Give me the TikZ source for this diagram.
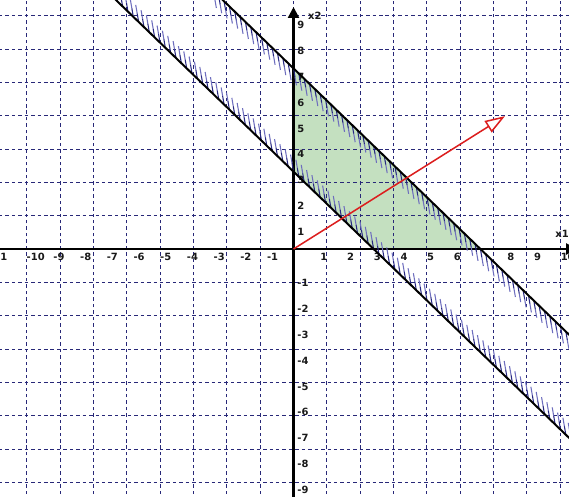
\documentclass[tikz,border=0pt]{standalone}
\usepackage{fontspec}
\newfontfamily\ticksfont{DejaVu Sans}
\usetikzlibrary{arrows.meta}
\definecolor{gridblue}{RGB}{40,40,120}
\definecolor{feasgreen}{RGB}{196,224,192}
\definecolor{hatchblue}{RGB}{40,40,130}
\definecolor{hatchpale}{RGB}{110,110,190}
\definecolor{vecred}{RGB}{220,30,30}
\tikzset{
  gridline/.style={gridblue,line width=0.7pt,dash pattern=on 3pt off 2.5pt},
  axisline/.style={line width=2pt,-{Triangle[length=3.3mm,width=3.3mm]}},
  bound/.style={line width=1.7pt},
  hatch/.style={hatchblue,line width=0.9pt},
  hatchfade/.style={hatchpale,line width=0.9pt},
  ticklabel/.style={font=\ticksfont\bfseries\fontsize{8.5}{10}\selectfont,inner sep=0pt,text=black!90},
}

\begin{document}
\begin{tikzpicture}[x=0.801cm,y=0.774cm]
\useasboundingbox (-10.993,-9.574) rectangle (10.318,9.651);
\clip (-10.993,-9.574) rectangle (10.318,9.651);
\fill[feasgreen] (0,3) -- (0,7) -- (7,0) -- (3,0) -- cycle;
\draw[gridline] (-12,-10) grid (11,10);
\coordinate (O) at (0,0);
\coordinate (xs) at (-11.2,0);
\coordinate (xe) at (10.62,0);
\coordinate (ys) at (0,-9.8);
\coordinate (ye) at (0,9.38);
\draw[axisline] (xs) -- (xe);
\draw[axisline] (ys) -- (ye);
\foreach \k in {-10,...,-1,1,2,...,6,8,9,10}
  \node[ticklabel,anchor=west] (xt\k) at (\k,-0.32) {\k};
\node[ticklabel,anchor=west] (xtm11) at (-11.4,-0.32) {-11};
\foreach \k in {-9,...,-1,1,2,...,9}
  \node[ticklabel,anchor=west] (yt\k) at (0.14,{\k-0.33}) {\k};
\node[ticklabel] (xa) at (10.06,0.58) {x1};
\node[ticklabel] (ya) at (0.8,9.03) {x2};
\foreach \t in {-7,-6.8,...,10.4}{
  \draw[hatchfade] ({\t-0.055},{3-\t+0.33}) -- ++(-0.055,0.33);
  \draw[hatch] ({\t},{3-\t}) -- ++(-0.055,0.33);
}
\foreach \t in {-3,-2.8,...,10.4}{
  \draw[hatchfade] ({\t+0.055},{7-\t-0.33}) -- ++(0.055,-0.33);
  \draw[hatch] ({\t},{7-\t}) -- ++(0.055,-0.33);
}
\coordinate (l1a) at (-6.8,9.8);
\coordinate (l1b) at (10.5,-7.5);
\coordinate (l2a) at (-2.8,9.8);
\coordinate (l2b) at (10.5,-3.5);
\draw[bound] (l1a) -- (l1b);
\draw[bound] (l2a) -- (l2b);
\coordinate (c) at (7.92,5.15);
\draw[vecred,line width=1.3pt,-{Triangle[length=6mm,width=4mm,fill=white]}] (O) -- (c);
\end{tikzpicture}
\end{document}
